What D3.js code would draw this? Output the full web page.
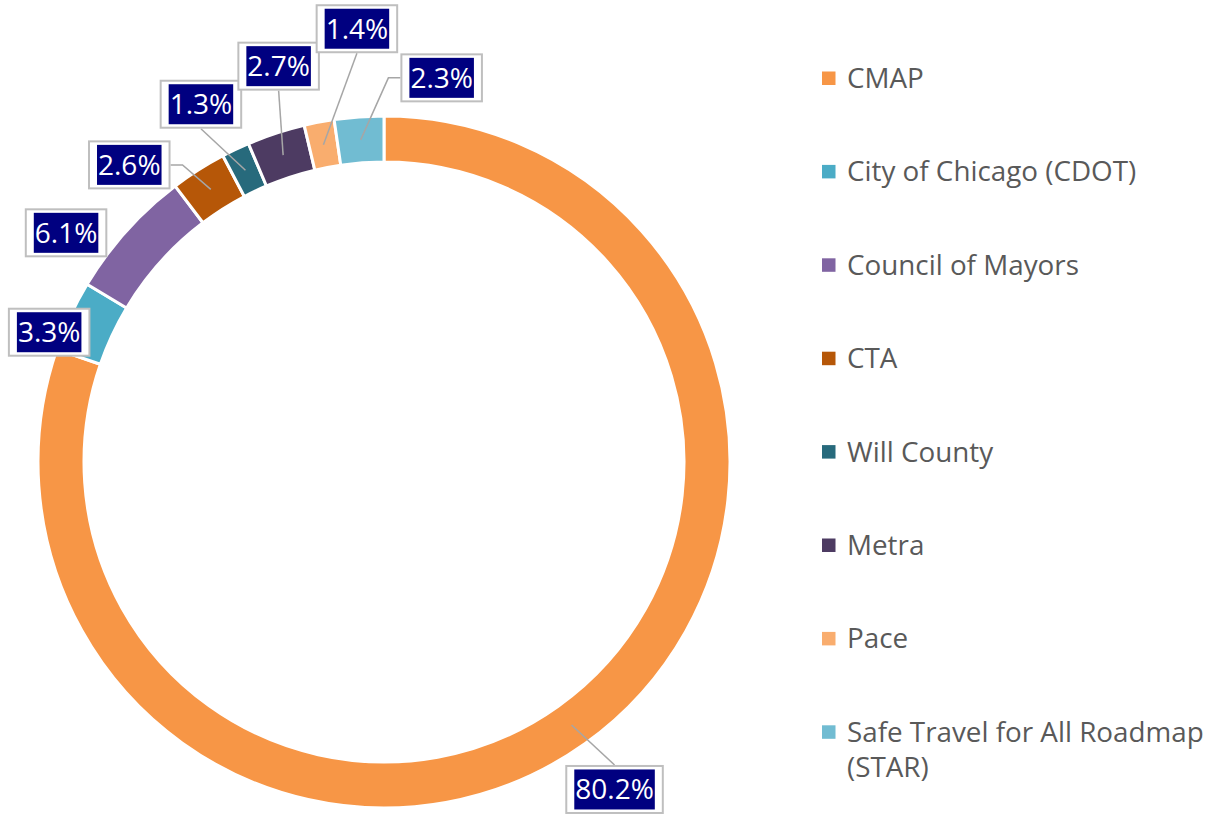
<!DOCTYPE html>
<html>
<head>
<meta charset="utf-8">
<script src="https://cdn.jsdelivr.net/npm/d3@7"></script>
<style>
  html, body { margin: 0; padding: 0; background: #fff; }
  svg { display: block; }
</style>
</head>
<body>
<svg id="chart" width="1211" height="814"></svg>
<script>
// ---- data ----
const categories = ["CMAP", "City of Chicago (CDOT)", "Council of Mayors", "CTA", "Will County", "Metra", "Pace", "Safe Travel for All Roadmap (STAR)"];
const shares = [80.2, 3.3, 6.1, 2.6, 1.3, 2.7, 1.4, 2.3];
const valueLabels = ["80.2%", "3.3%", "6.1%", "2.6%", "1.3%", "2.7%", "1.4%", "2.3%"];
const legendLines = [["CMAP"], ["City of Chicago (CDOT)"], ["Council of Mayors"], ["CTA"], ["Will County"], ["Metra"], ["Pace"], ["Safe Travel for All Roadmap", "(STAR)"]];

// ---- styling / layout ----
const colors = ["#F79646", "#4BACC6", "#8064A2", "#B65708", "#276A7C", "#4D3B62", "#F9AD6E", "#71BCD2"];
// label box offsets relative to the slice centroid (layout), and whether a leader is drawn
const labelOffsets = [[43, 64.5], [-42, 6.5], [-77.5, -13.5], [-81.5, -24.5], [-44.5, -66], [-4.5, -89], [33.5, -116], [81, -62]];
const showLeader = [true, false, false, true, true, true, true, true];

const svg = d3.select("#chart");
const cx = 384, cy = 462, outerR = 346, innerR = 300;
const font = "'Open Sans', 'Noto Sans', sans-serif";

const color = d3.scaleOrdinal().domain(categories).range(colors);
const data = categories.map((c, i) => ({ name: c, value: shares[i], label: valueLabels[i], i }));

const pie = d3.pie().value(d => d.value).sort(null).startAngle(0).endAngle(2 * Math.PI);
const arcs = pie(data);
const arc = d3.arc().innerRadius(innerR).outerRadius(outerR);
const midArc = d3.arc().innerRadius(2 * 323 - outerR).outerRadius(outerR); // centroid at r=323

const g = svg.append("g").attr("transform", `translate(${cx},${cy})`);
g.selectAll("path.slice").data(arcs).enter().append("path")
  .attr("class", "slice")
  .attr("d", arc)
  .attr("fill", d => color(d.data.name))
  .attr("stroke", "#fff")
  .attr("stroke-width", 3)
  .attr("stroke-linejoin", "miter");

// ---- data labels ----
const lblG = svg.append("g");
arcs.forEach((a, i) => {
  const [px, py] = midArc.centroid(a);
  const ax = cx + px, ay = cy + py;
  const bx = ax + labelOffsets[i][0], by = ay + labelOffsets[i][1];

  const grp = lblG.append("g");
  const outer = grp.append("rect");
  const navy = grp.append("rect");
  const txt = grp.append("text")
    .attr("x", bx).attr("y", by + 10)
    .attr("text-anchor", "middle")
    .attr("font-family", font)
    .attr("font-size", 28)
    .attr("fill", "#fff")
    .text(a.data.label);
  const tw = txt.node().getComputedTextLength();
  const nw = tw + 2, nh = 40;
  const ow = nw + 16, oh = 47;
  navy.attr("x", bx - nw / 2).attr("y", by - nh / 2).attr("width", nw).attr("height", nh).attr("fill", "#000080");
  outer.attr("x", bx - ow / 2).attr("y", by - oh / 2).attr("width", ow).attr("height", oh)
    .attr("fill", "#fff").attr("stroke", "#BFBFBF").attr("stroke-width", 2);

  if (showLeader[i]) {
    const dx = ax - bx, dy = ay - by;
    let pts;
    if (Math.abs(dy) * 0.8 > Math.abs(dx)) {
      const ey = by + Math.sign(dy) * (oh / 2 + 1);
      pts = [[bx, ey], [ax, ay]];
    } else {
      const ex = bx + Math.sign(dx) * (ow / 2 + 1);
      pts = [[ex, by], [ex + Math.sign(dx) * 12, by], [ax, ay]];
    }
    lblG.insert("path", ":first-child")
      .attr("d", d3.line()(pts))
      .attr("fill", "none")
      .attr("stroke", "#A6A6A6")
      .attr("stroke-width", 1.5);
  }
});

// ---- legend ----
const legendX = 822, legendY0 = 78, legendStep = 93.4, lineH = 35.5;
const lg = svg.append("g");
categories.forEach((c, i) => {
  const y = legendY0 + i * legendStep;
  lg.append("rect")
    .attr("x", legendX).attr("y", y - 6.5)
    .attr("width", 13.5).attr("height", 13.5)
    .attr("fill", color(c));
  const t = lg.append("text")
    .attr("x", legendX + 25).attr("y", y + 10)
    .attr("font-family", font)
    .attr("font-size", 27.8)
    .attr("fill", "#595959");
  legendLines[i].forEach((ln, k) => {
    t.append("tspan").attr("x", legendX + 25).attr("dy", k === 0 ? 0 : lineH).text(ln);
  });
});
</script>
</body>
</html>
